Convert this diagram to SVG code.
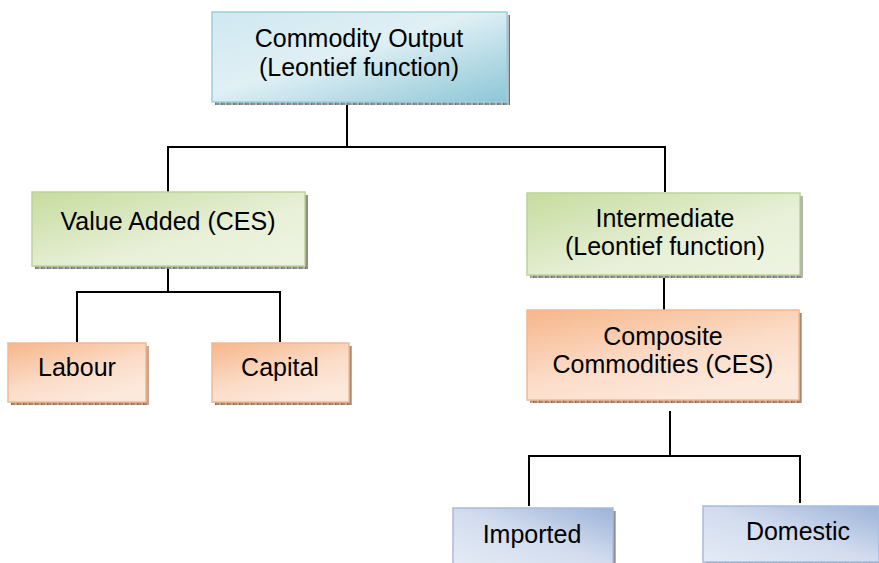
<svg xmlns="http://www.w3.org/2000/svg" width="879" height="563" viewBox="0 0 879 563">
<defs>
<pattern id="shadowGray" width="6" height="3" patternUnits="userSpaceOnUse">
<rect width="6" height="3" fill="#b4b4b4"/>
<rect width="3" height="3" fill="#8e8e8e"/>
<rect x="5" width="1" height="3" fill="#707070"/>
</pattern>
<pattern id="shadowBrown" width="6" height="3" patternUnits="userSpaceOnUse">
<rect width="6" height="3" fill="#c8a890"/>
<rect width="3" height="3" fill="#a88870"/>
<rect x="5" width="1" height="3" fill="#8a6a54"/>
</pattern>
<linearGradient id="gBlue" x1="0" y1="0" x2="1" y2="1">
<stop offset="0" stop-color="#cfe8f0"/>
<stop offset="0.45" stop-color="#e0f0f5"/>
<stop offset="1" stop-color="#8cc6d6"/>
</linearGradient>
<linearGradient id="gGreen" x1="0" y1="0" x2="1" y2="1">
<stop offset="0" stop-color="#c6dc9e"/>
<stop offset="0.6" stop-color="#e8f0d8"/>
<stop offset="1" stop-color="#eef4e2"/>
</linearGradient>
<linearGradient id="gOrange" x1="0" y1="0" x2="0.6" y2="1">
<stop offset="0" stop-color="#f6b68a"/>
<stop offset="0.6" stop-color="#fbdcc8"/>
<stop offset="1" stop-color="#fde9dc"/>
</linearGradient>
<linearGradient id="gPurple" x1="0" y1="1" x2="1" y2="0">
<stop offset="0" stop-color="#e4ebf5"/>
<stop offset="0.5" stop-color="#d2dcee"/>
<stop offset="1" stop-color="#9cb3d8"/>
</linearGradient>
<style>
text{font-family:"Liberation Sans",Arial,sans-serif;font-size:25px;fill:#000;text-anchor:middle}
.conn{fill:none;stroke:#000;stroke-width:2}
.blue{fill:url(#gBlue);stroke:#9ccfdc;stroke-width:1.5}
.green{fill:url(#gGreen);stroke:#bcd496;stroke-width:1.5}
.orange{fill:url(#gOrange);stroke:#f5b890;stroke-width:1.5}
.purple{fill:url(#gPurple);stroke:#a8bcdc;stroke-width:1.5}
.sg{fill:url(#shadowGray)}
.sb{fill:url(#shadowBrown)}
</style>
</defs>
<rect width="879" height="563" fill="#fff"/>
<g id="connectors">
<polyline class="conn" points="347,103 347,147"/>
<polyline class="conn" points="168,192 168,147 665,147 665,192"/>
<polyline class="conn" points="168,267 168,292"/>
<polyline class="conn" points="77,342 77,292 280,292 280,342"/>
<polyline class="conn" points="664,276 664,310"/>
<polyline class="conn" points="670,411 670,456"/>
<polyline class="conn" points="529,506 529,456 800,456 800,503"/>
</g>
<g id="commodity-output">
<rect class="sg" x="215" y="15" width="295" height="90"/>
<rect class="blue" x="212" y="12" width="295" height="90"/>
<text x="359" y="47">Commodity Output</text>
<text x="359" y="76">(Leontief function)</text>
</g>
<g id="value-added">
<rect class="sg" x="35" y="195" width="273" height="74"/>
<rect class="green" x="32" y="192" width="273" height="74"/>
<text x="168" y="230">Value Added (CES)</text>
</g>
<g id="intermediate">
<rect class="sg" x="530" y="196" width="273" height="82"/>
<rect class="green" x="527" y="193" width="273" height="82"/>
<text x="665" y="227">Intermediate</text>
<text x="665" y="255">(Leontief function)</text>
</g>
<g id="labour">
<rect class="sb" x="11" y="346" width="138" height="59"/>
<rect class="orange" x="8" y="343" width="138" height="59"/>
<text x="77" y="376">Labour</text>
</g>
<g id="capital">
<rect class="sb" x="215" y="346" width="137" height="59"/>
<rect class="orange" x="212" y="343" width="137" height="59"/>
<text x="280" y="376">Capital</text>
</g>
<g id="composite">
<rect class="sb" x="530" y="313" width="272" height="90"/>
<rect class="orange" x="527" y="310" width="272" height="90"/>
<text x="663" y="345">Composite</text>
<text x="663" y="373">Commodities (CES)</text>
</g>
<g id="imported">
<rect class="sg" x="456" y="511" width="160" height="56"/>
<rect class="purple" x="453" y="508" width="160" height="56"/>
<text x="532" y="543">Imported</text>
</g>
<g id="domestic">
<rect class="sg" x="706" y="509" width="176" height="56"/>
<rect class="purple" x="703" y="506" width="176" height="56"/>
<text x="798" y="540">Domestic</text>
</g>
</svg>
